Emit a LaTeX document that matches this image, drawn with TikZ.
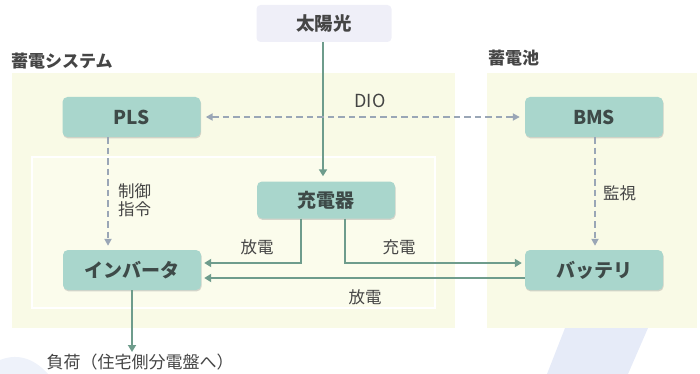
\documentclass[tikz,border=0pt]{standalone}
\usepackage{fontspec}
\setmainfont{Noto Sans CJK JP}
\usetikzlibrary{arrows.meta,shadows,calc}
\definecolor{boxfill}{HTML}{A9D6CC}
\definecolor{boxtext}{HTML}{3E4A48}
\definecolor{flow}{HTML}{6E9C8C}
\definecolor{dash}{HTML}{9AA6B6}
\definecolor{cream}{HTML}{F9FAE6}
\definecolor{creamin}{HTML}{FBFCEC}
\definecolor{sunfill}{HTML}{EFEFF8}
\definecolor{headtext}{HTML}{454545}
\definecolor{deco}{HTML}{E6EBF8}
\definecolor{decolight}{HTML}{EEF2FA}
\tikzset{
  unit/.style={rounded corners=5pt, fill=boxfill, minimum width=138pt, minimum height=40pt,
    text=boxtext, font=\fontsize{19pt}{21pt}\selectfont\bfseries,
    drop shadow={shadow xshift=0.6pt, shadow yshift=-1.4pt, fill=black!45, opacity=0.35}},
  sunbox/.style={rounded corners=4pt, fill=sunfill, minimum width=135pt, minimum height=37pt,
    text=headtext, font=\fontsize{18.5pt}{20pt}\selectfont\bfseries},
  heading/.style={text=headtext, font=\fontsize{17pt}{19pt}\selectfont\bfseries, anchor=west, inner sep=0pt},
  lbl/.style={text=headtext, font=\fontsize{16.5pt}{19pt}\selectfont, inner sep=0pt},
  power/.style={draw=flow, line width=2.6pt, -{Triangle[length=7pt,width=8pt]}},
  signal/.style={draw=dash, line width=2.6pt, dash pattern=on 6.5pt off 4pt, -{Triangle[length=7pt,width=7pt]}},
}
\begin{document}
\begin{tikzpicture}[x=1pt,y=-1pt]
\useasboundingbox (0,0) rectangle (700,374);
% decorations
\fill[deco] (565,328) -- (648,328) -- (628,374) -- (547,374) -- cycle;
\fill[decolight] (0,374) -- (0,360) .. controls (15,354) and (32,356) .. (48,374) -- cycle;
% regions
\fill[cream] (12,73) rectangle (455,328);
\fill[cream] (487,73) rectangle (697,328);
\draw[white, line width=1.6pt, fill=creamin] (32,157) rectangle (435,308);
% headings
\node[heading] (hsys) at (11,61) {蓄電システム};
\node[heading] (hbat) at (488,58) {蓄電池};
% nodes
\node[sunbox] (sun) at (324,23.5) {太陽光};
\node[unit] (pls) at (131.5,117) {PLS};
\node[unit] (bms) at (594,117) {BMS};
\node[unit, minimum height=37pt] (chg) at (326,200) {充電器};
\node[unit] (inv) at (132,270) {インバータ};
\node[unit] (bat) at (594,270) {バッテリ};
\node[lbl, font=\fontsize{17pt}{19pt}\selectfont, anchor=north] (load) at (140,354) {負荷（住宅側分電盤へ）};
% connectors
\draw[power, shorten >=5pt] ([xshift=-1pt]sun.south) -- ([xshift=-1pt]sun.south |- chg.north);
\draw[signal, {Triangle[length=7pt,width=7pt]}-{Triangle[length=7pt,width=7pt]}, shorten <=5pt, shorten >=5pt] (pls.east) -- (bms.west);
\draw[signal, shorten >=4pt] ([xshift=-23.5pt]pls.south) -- ([xshift=-23.5pt]pls.south |- inv.north);
\draw[signal, shorten >=4pt] ([xshift=1pt]bms.south) -- ([xshift=1pt]bms.south |- bat.north);
\draw[power, shorten >=3pt] ([xshift=-25pt]chg.south) |- ([yshift=7pt]inv.east);
\draw[power, shorten >=3pt] ([xshift=19pt]chg.south) |- ([yshift=7pt]bat.west);
\draw[power, shorten >=3pt] ([yshift=-8pt]bat.west) -- ([yshift=-8pt]inv.east);
\draw[power, shorten >=2pt] (inv.south) -- (inv.south |- load.north);
% labels
\node[lbl, font=\fontsize{18pt}{20pt}\selectfont] (ldio) at (370,101) {DIO};
\node[lbl, anchor=west, align=left] (lctl) at (118,200) {制御\\[-1pt]指令};
\node[lbl, anchor=west] (lmon) at (603,193) {監視};
\node[lbl] (ldis1) at (257,247) {放電};
\node[lbl] (lchg) at (399,247) {充電};
\node[lbl] (ldis2) at (365,297) {放電};
\end{tikzpicture}
\end{document}
